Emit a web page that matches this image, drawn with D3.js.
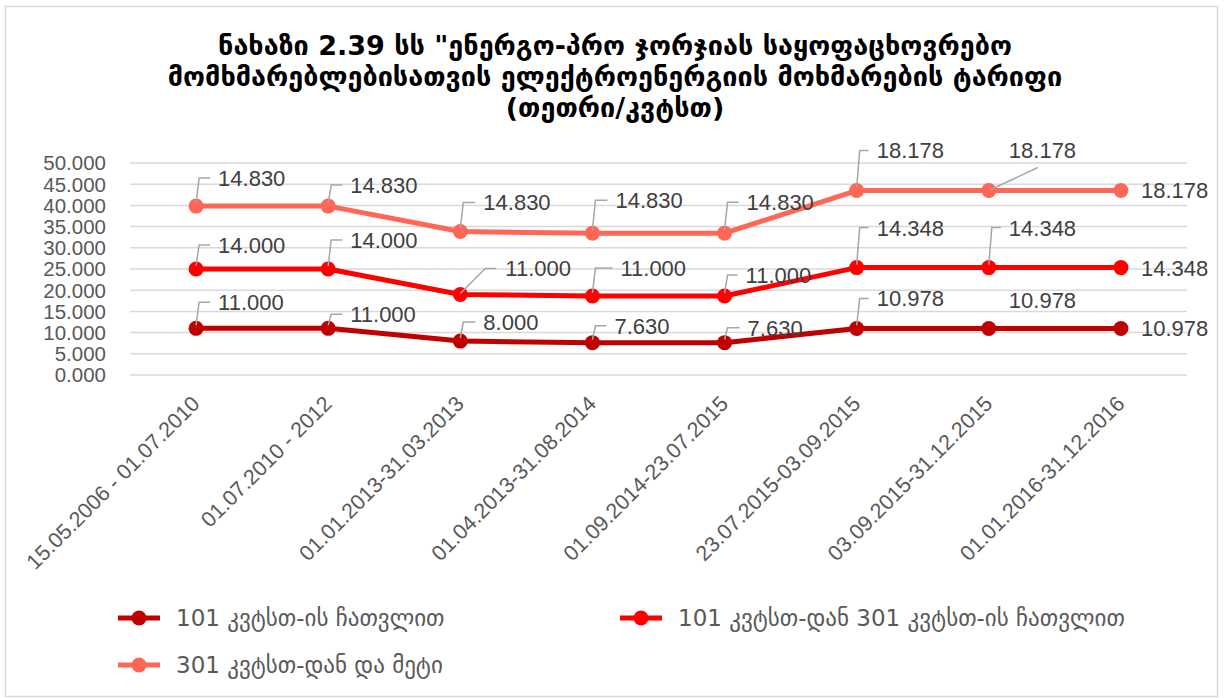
<!DOCTYPE html>
<html><head><meta charset="utf-8">
<script src="https://cdn.jsdelivr.net/npm/d3@7"></script>
<style>
body{margin:0;background:#fff;}
svg{display:block;}
</style></head>
<body><svg id="c" width="1230" height="698"></svg>
<script>
const categories = ["15.05.2006 - 01.07.2010","01.07.2010 - 2012","01.01.2013-31.03.2013","01.04.2013-31.08.2014","01.09.2014-23.07.2015","23.07.2015-03.09.2015","03.09.2015-31.12.2015","01.01.2016-31.12.2016"];
const seriesNames = ["101 კვტსთ-ის ჩათვლით","101 კვტსთ-დან 301 კვტსთ-ის ჩათვლით","301 კვტსთ-დან და მეტი"];
const s1 = [11.000, 11.000, 8.000, 7.630, 7.630, 10.978, 10.978, 10.978];
const s2 = [14.000, 14.000, 11.000, 11.000, 11.000, 14.348, 14.348, 14.348];
const s3 = [14.830, 14.830, 14.830, 14.830, 14.830, 18.178, 18.178, 18.178];
const yTicks = [0,5,10,15,20,25,30,35,40,45,50];
const titleLines = ["ნახაზი 2.39 სს \"ენერგო-პრო ჯორჯიას საყოფაცხოვრებო","მომხმარებლებისათვის ელექტროენერგიის მოხმარების ტარიფი","(თეთრი/კვტსთ)"];

// layout / style (not data)
const colors = ["#C00000","#FF0000","#FF6655"];
// label offsets [dx, dy] from each point; last = right side
const labelOff = [
  [[22,-26],[22,-14],[23,-19],[22,-17],[23,-15],[20,-30],[20,-28],[20,0]],
  [[22,-24],[22,-29],[45,-26],[28,-28],[21,-21],[20,-40],[20,-40],[20,0]],
  [[22,-28],[22,-21],[23,-29],[23,-33],[22,-31],[20,-40],[20,-40],[20,0]]
];
const leaderType = [
  ["L","L","L","L","L","L","N","N"],
  ["L","L","D","L","L","L","L","N"],
  ["L","L","L","L","L","L","D2","N"]
];

const svg = d3.select("#c");
svg.append("rect").attr("x",5.5).attr("y",6.5).attr("width",1212).attr("height",690)
  .attr("fill","#fff").attr("stroke","#D9D9D9").attr("stroke-width",1.5);

const geo = "'DejaVu Sans', sans-serif";
const num = "'Liberation Sans', Arial, sans-serif";

// title
const tg = svg.append("g");
titleLines.forEach((t,i)=>{
  tg.append("text").attr("x",615).attr("y",55+i*31).attr("text-anchor","middle")
    .attr("font-family",geo).attr("font-weight","bold").attr("font-size",27)
    .attr("fill","#000").text(t);
});

const x = d3.scaleBand().domain(categories).range([130,1187]);
const y = d3.scaleLinear().domain([0,50]).range([375,163]);

// grid
svg.append("g").selectAll("line").data(yTicks).join("line")
  .attr("x1",130).attr("x2",1187).attr("y1",d=>y(d)).attr("y2",d=>y(d))
  .attr("stroke","#D9D9D9").attr("stroke-width",1.5);

// y labels
svg.append("g").selectAll("text").data(yTicks).join("text")
  .attr("x",106).attr("y",d=>y(d)).attr("dy","0.36em").attr("text-anchor","end")
  .attr("font-family",num).attr("font-size",20.5).attr("fill","#595959")
  .text(d=>d3.format(".3f")(d));

// x labels
svg.append("g").selectAll("text").data(categories).join("text")
  .attr("transform",d=>`translate(${x(d)+x.bandwidth()/2+5},${405}) rotate(-45)`)
  .attr("text-anchor","end").attr("font-family",num).attr("font-size",21.5).attr("fill","#595959")
  .text(d=>d);

// stack
const table = categories.map((c,i)=>({c, a:s1[i], b:s2[i], d:s3[i]}));
const stack = d3.stack().keys(["a","b","d"])(table);
const cx = d=>x(d.data.c)+x.bandwidth()/2;

const line = d3.line().x(cx).y(d=>y(d[1]));
stack.forEach((s,k)=>{
  svg.append("path").datum(s).attr("d",line).attr("fill","none")
    .attr("stroke",colors[k]).attr("stroke-width",5).attr("stroke-linejoin","round");
});
stack.forEach((s,k)=>{
  svg.append("g").selectAll("circle").data(s).join("circle")
    .attr("cx",cx).attr("cy",d=>y(d[1])).attr("r",7.5).attr("fill",colors[k]);
});

// labels with leader lines
const raw = [s1,s2,s3];
stack.forEach((s,k)=>{
  s.forEach((d,i)=>{
    const px = cx(d), py = y(d[1]);
    const [dx,dy] = labelOff[k][i];
    const tx = px+dx, ty = py+dy;
    const lt = leaderType[k][i];
    let pts = null;
    if(lt==="L") pts = [[px,py-3],[px+3,ty],[tx-8,ty]];
    else if(lt==="D") pts = [[px,py-1],[tx-20,ty],[tx-9,ty]];
    else if(lt==="D2") pts = [[px+2,py-1],[px+49,py-23]];
    if(pts && Math.abs(dy)>12){
      svg.append("path").attr("d",d3.line()(pts)).attr("fill","none")
        .attr("stroke","#A6A6A6").attr("stroke-width",1.5);
    }
    svg.append("text").attr("x",tx).attr("y",ty).attr("dy","0.36em")
      .attr("font-family",num).attr("font-size",22).attr("fill","#404040")
      .text(d3.format(".3f")(raw[k][i]));
  });
});

// legend
const legPos = [[118,618],[620,618],[118,665]];
seriesNames.forEach((n,k)=>{
  const [lx,ly] = legPos[k];
  const g = svg.append("g");
  g.append("line").attr("x1",lx).attr("x2",lx+42).attr("y1",ly).attr("y2",ly)
    .attr("stroke",colors[k]).attr("stroke-width",5);
  g.append("circle").attr("cx",lx+21).attr("cy",ly).attr("r",7.5).attr("fill",colors[k]);
  g.append("text").attr("x",lx+58).attr("y",ly).attr("dy","0.36em")
    .attr("font-family",geo).attr("font-size",23).attr("fill","#595959").text(n);
});
</script></body></html>
